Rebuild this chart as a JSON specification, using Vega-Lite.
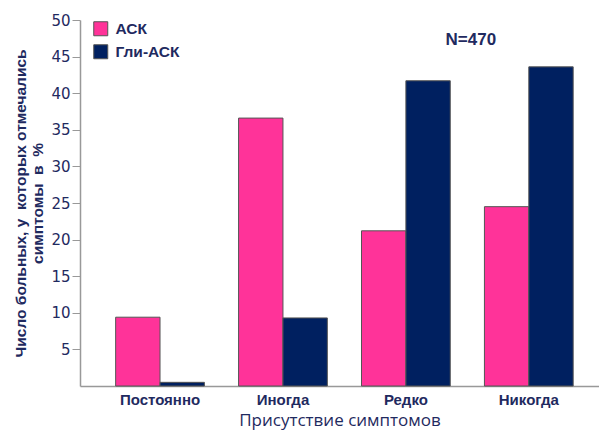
{
  "$schema": "https://vega.github.io/schema/vega-lite/v6.json",
  "width": 519,
  "height": 366,
  "autosize": {"type": "none"},
  "padding": {"left": 80, "top": 20, "right": 0, "bottom": 45},
  "background": "white",
  "config": {"view": {"stroke": null}},
  "data": {
    "values": [
      {"category": "Постоянно", "group": "АСК", "value": 9.4},
      {"category": "Постоянно", "group": "Гли-АСК", "value": 0.5},
      {"category": "Иногда", "group": "АСК", "value": 36.6},
      {"category": "Иногда", "group": "Гли-АСК", "value": 9.3},
      {"category": "Редко", "group": "АСК", "value": 21.2},
      {"category": "Редко", "group": "Гли-АСК", "value": 41.7},
      {"category": "Никогда", "group": "АСК", "value": 24.5},
      {"category": "Никогда", "group": "Гли-АСК", "value": 43.6}
    ]
  },
  "layer": [
    {
      "mark": {"type": "bar", "stroke": "#555555", "strokeWidth": 1},
      "encoding": {
        "x": {
          "field": "category",
          "type": "nominal",
          "sort": ["Постоянно", "Иногда", "Редко", "Никогда"],
          "scale": {"paddingInner": 0.278, "paddingOuter": 0.25, "align": 0.58},
          "axis": {
            "title": "Присутствие симптомов",
            "titleFont": "Open Sans",
            "titleFontSize": 17,
            "titleFontWeight": "normal",
            "titleColor": "#1F2A60",
            "titlePadding": 5,
            "labelAngle": 0,
            "labelFont": "Liberation Sans",
            "labelFontSize": 15,
            "labelFontWeight": "bold",
            "labelColor": "#1F2A60",
            "labelPadding": 6,
            "ticks": false,
            "domainColor": "#999999",
            "domainWidth": 1.5
          }
        },
        "xOffset": {"field": "group", "sort": ["АСК", "Гли-АСК"]},
        "y": {
          "field": "value",
          "type": "quantitative",
          "scale": {"domain": [0, 50]},
          "axis": {
            "values": [5, 10, 15, 20, 25, 30, 35, 40, 45, 50],
            "title": ["Число больных, у\u00a0\u00a0которых отмечались", "симптомы\u00a0\u00a0в\u00a0\u00a0%"],
            "titleFont": "Liberation Sans",
            "titleFontSize": 15.5,
            "titleFontWeight": "bold",
            "titleColor": "#1F2A60",
            "titleLineHeight": 17,
            "titlePadding": 5,
            "labelFont": "DejaVu Sans",
            "labelFontSize": 15,
            "labelColor": "#1F2A60",
            "labelPadding": 2,
            "tickSize": 8,
            "tickColor": "#999999",
            "domainColor": "#999999",
            "domainWidth": 1.5,
            "grid": false
          }
        },
        "color": {
          "field": "group",
          "type": "nominal",
          "scale": {"domain": ["АСК", "Гли-АСК"], "range": ["#FF3399", "#002060"]},
          "legend": {
            "title": null,
            "orient": "none",
            "legendX": 13,
            "legendY": 1,
            "padding": 0,
            "symbolType": "square",
            "symbolSize": 196,
            "symbolStrokeColor": "#555555",
            "symbolStrokeWidth": 1,
            "symbolOpacity": 1,
            "labelFont": "Liberation Sans",
            "labelFontSize": 15.5,
            "labelFontWeight": "bold",
            "labelColor": "#1F2A60",
            "labelOffset": 7,
            "rowPadding": 4
          }
        }
      }
    },
    {
      "data": {"values": [{"label": "N=470", "category": "Никогда", "y": 47.2}]},
      "mark": {
        "type": "text",
        "font": "Liberation Sans",
        "fontSize": 17,
        "fontWeight": "bold",
        "color": "#1F2A60",
        "dx": -58,
        "baseline": "middle",
        "align": "center"
      },
      "encoding": {
        "x": {"field": "category", "type": "nominal", "sort": ["Постоянно", "Иногда", "Редко", "Никогда"]},
        "y": {"field": "y", "type": "quantitative"},
        "text": {"field": "label"}
      }
    }
  ]
}
